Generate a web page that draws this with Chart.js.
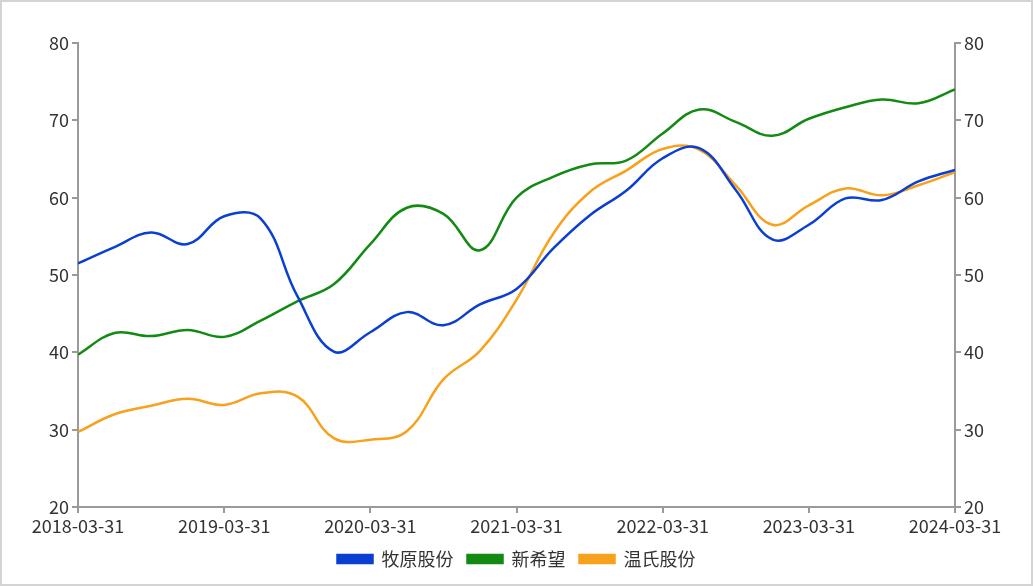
<!DOCTYPE html>
<html>
<head>
<meta charset="utf-8">
<script src="https://cdn.jsdelivr.net/npm/chart.js@4"></script>
<style>
  html, body { margin: 0; padding: 0; background: #fff; }
  #wrap { width: 1033px; height: 586px; position: relative; }
</style>
</head>
<body>
<div id="wrap"><canvas id="c" width="1033" height="586"></canvas></div>
<script>
const dates = ["2018-03-31","2018-06-30","2018-09-30","2018-12-31",
  "2019-03-31","2019-06-30","2019-09-30","2019-12-31",
  "2020-03-31","2020-06-30","2020-09-30","2020-12-31",
  "2021-03-31","2021-06-30","2021-09-30","2021-12-31",
  "2022-03-31","2022-06-30","2022-09-30","2022-12-31",
  "2023-03-31","2023-06-30","2023-09-30","2023-12-31","2024-03-31"];
const muyuan = [51.5,53.6,55.5,54.0, 57.6,57.3,47.3,40.1, 42.6,45.2,43.5,46.2,
  48.2,53.4,57.7,60.9, 65.1,66.4,61.0,54.6, 56.5,59.9,59.7,62.1,63.6];
const xinxiwang = [39.7,42.5,42.1,42.9, 42.0,44.1,46.6,48.8, 54.0,58.7,57.9,53.2,
  60.0,62.7,64.3,64.8, 68.3,71.4,69.8,68.0, 70.2,71.7,72.7,72.2,74.0];
const wenshi = [29.7,32.0,33.1,34.0, 33.2,34.7,34.3,28.9, 28.7,29.8,36.5,40.2,
  46.8,55.3,60.7,63.5, 66.3,66.2,61.6,56.5, 59.0,61.2,60.3,61.6,63.3];
const seriesNames = ["牧原股份","新希望","温氏股份"];
const yTicks = [20,30,40,50,60,70,80];

const toPts = arr => arr.map((v, i) => ({x: i, y: v}));
const FONT = "'Noto Sans CJK SC','Noto Sans',sans-serif";

const frame = {
  id: 'frame',
  afterDraw(chart) {
    const ctx = chart.ctx;
    ctx.save();
    ctx.strokeStyle = '#d4d4d4';
    ctx.lineWidth = 2;
    ctx.strokeRect(1, 1, chart.width - 2, chart.height - 2);
    ctx.restore();
  }
};

const axisGrid = {drawOnChartArea: false, drawTicks: true, tickLength: 6, color: '#9a9a9a', lineWidth: 2};
const axisBorder = {display: true, color: '#9a9a9a', width: 2};
const tickFont = {family: FONT, size: 18};

new Chart(document.getElementById('c'), {
  type: 'line',
  data: {
    datasets: [
      {label: seriesNames[0], data: toPts(muyuan), borderColor: '#0b3fd2', backgroundColor: '#0b3fd2'},
      {label: seriesNames[1], data: toPts(xinxiwang), borderColor: '#138a13', backgroundColor: '#138a13'},
      {label: seriesNames[2], data: toPts(wenshi), borderColor: '#f7a11c', backgroundColor: '#f7a11c'}
    ].map(d => Object.assign(d, {borderWidth: 2.5, pointRadius: 0, tension: 0.4, fill: false}))
  },
  options: {
    responsive: false,
    animation: false,
    devicePixelRatio: 1,
    layout: {padding: {top: 43, bottom: 8, left: 0, right: 0}},
    plugins: {
      legend: {
        position: 'bottom',
        labels: {boxWidth: 35, boxHeight: 8, color: '#333', font: {family: FONT, size: 18}, padding: 14}
      },
      tooltip: {enabled: false}
    },
    scales: {
      x: {
        type: 'linear', min: 0, max: dates.length - 1,
        afterBuildTicks: s => { s.ticks = dates.map((d, i) => ({value: i})).filter(t => t.value % 4 === 0); },
        ticks: {color: '#333', font: tickFont, padding: 2, maxRotation: 0, autoSkip: false,
          callback: v => dates[v]},
        grid: axisGrid, border: axisBorder,
        afterFit: s => { s.height = 29; }
      },
      y: {
        position: 'left', min: 20, max: 80,
        afterBuildTicks: s => { s.ticks = yTicks.map(v => ({value: v})); },
        ticks: {color: '#333', font: tickFont, padding: 3},
        grid: axisGrid, border: axisBorder,
        afterFit: s => { s.width = 78; }
      },
      y1: {
        position: 'right', min: 20, max: 80,
        afterBuildTicks: s => { s.ticks = yTicks.map(v => ({value: v})); },
        ticks: {color: '#333', font: tickFont, padding: 3},
        grid: axisGrid, border: axisBorder,
        afterFit: s => { s.width = 78; }
      }
    }
  },
  plugins: [frame]
});
</script>
</body>
</html>
